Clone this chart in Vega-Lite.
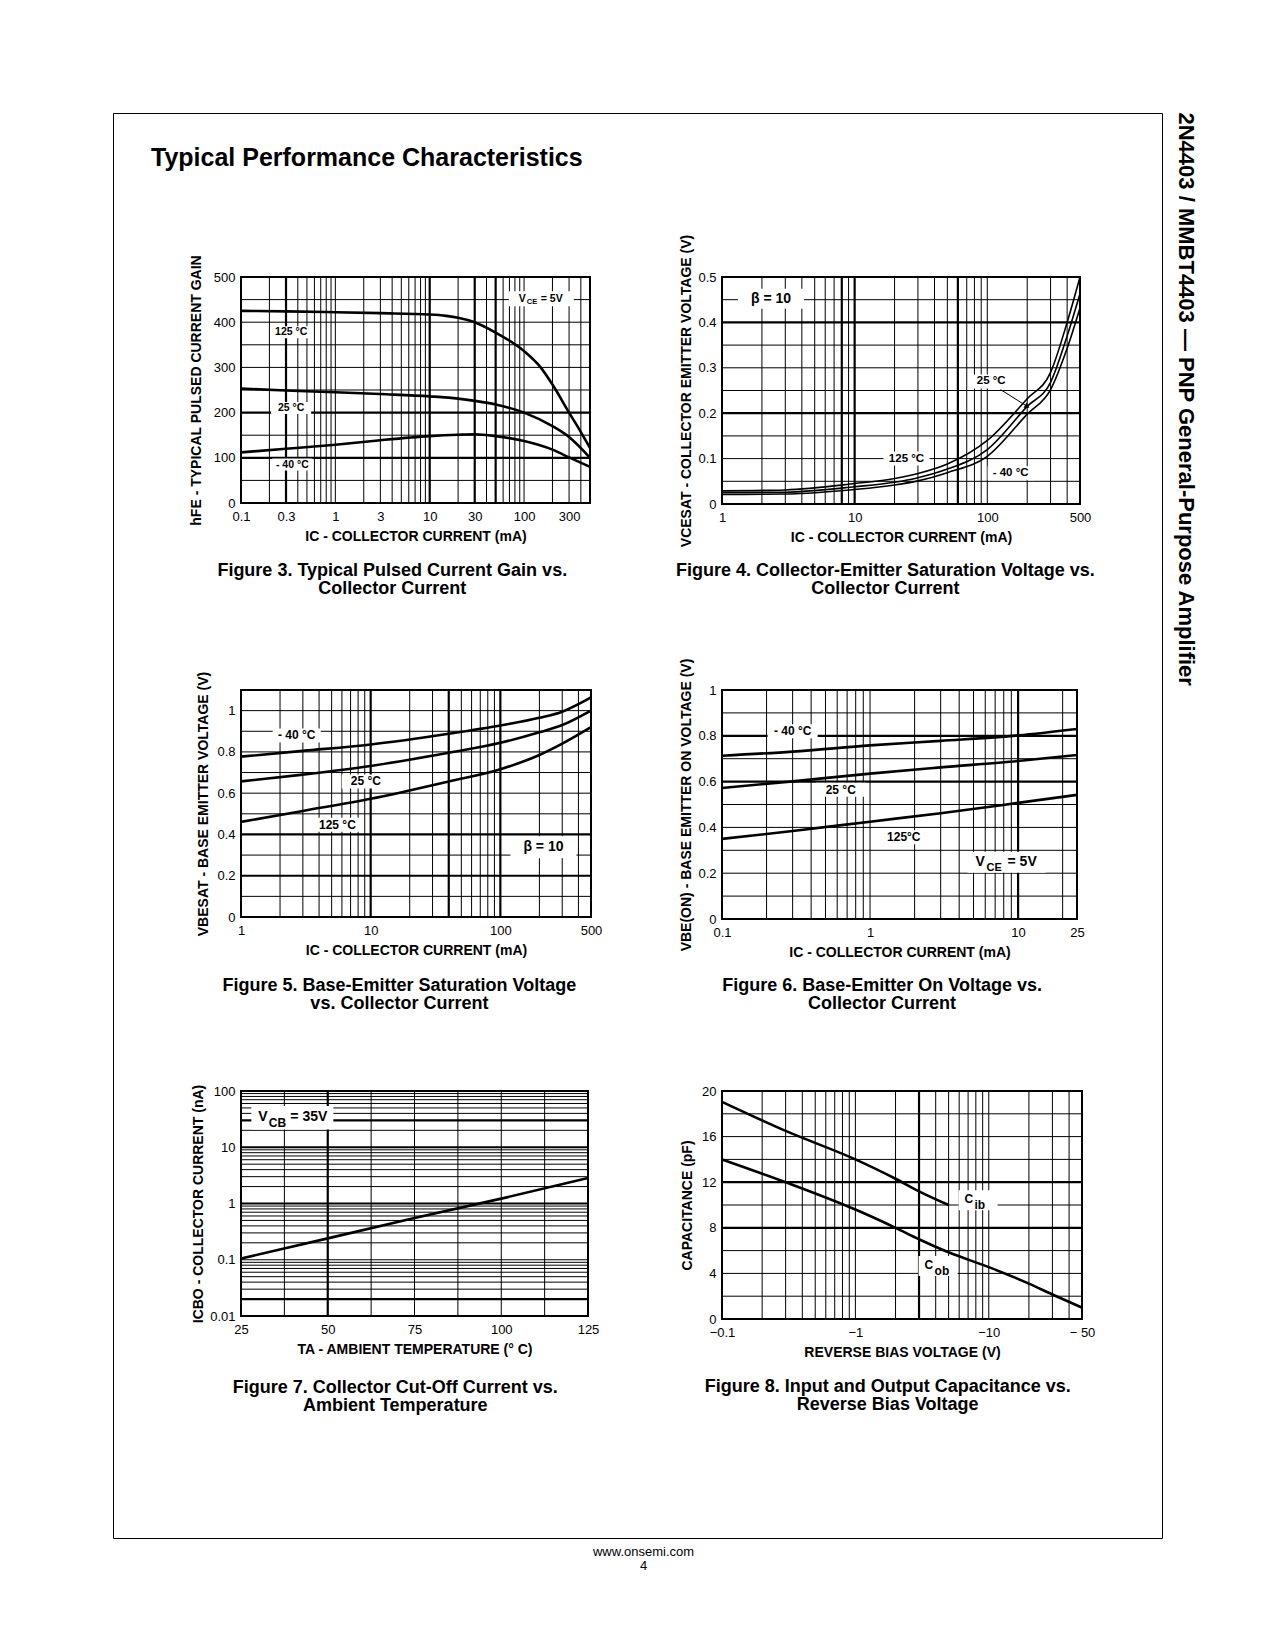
{
  "$schema": "https://vega.github.io/schema/vega-lite/v6.json",
  "padding": {"left": 112, "top": 112, "right": 5, "bottom": 5},
  "background": "white",
  "config": {
    "font": "Liberation Sans",
    "view": {"stroke": "#000", "strokeWidth": 2},
    "axis": {"grid": false, "ticks": false, "tickSize": 0, "domain": false, "labelFont": "Liberation Sans", "labelFontSize": 13, "labelColor": "#000", "titleFont": "Liberation Sans", "titleFontSize": 14, "titleFontWeight": "bold", "titleColor": "#000", "labelOverlap": false, "labelFlush": false, "labelBound": false},
    "axisX": {"labelPadding": 7, "titlePadding": 6},
    "axisY": {"labelPadding": 6},
    "title": {"font": "Liberation Sans", "color": "#000", "fontWeight": "bold"},
    "text": {"font": "Liberation Sans"}
  },
  "datasets": {
    "f3_curve": [
      {"x":0.1,"y":425,"s":"125"},{"x":0.3,"y":424,"s":"125"},{"x":1,"y":422,"s":"125"},{"x":3,"y":420,"s":"125"},{"x":10,"y":417,"s":"125"},{"x":15,"y":414,"s":"125"},{"x":20,"y":410,"s":"125"},{"x":30,"y":400,"s":"125"},{"x":50,"y":377,"s":"125"},{"x":100,"y":336,"s":"125"},{"x":150,"y":300,"s":"125"},{"x":200,"y":262,"s":"125"},{"x":300,"y":200,"s":"125"},{"x":400,"y":157,"s":"125"},{"x":500,"y":122,"s":"125"},
      {"x":0.1,"y":253,"s":"25"},{"x":0.3,"y":249,"s":"25"},{"x":1,"y":245,"s":"25"},{"x":3,"y":241,"s":"25"},{"x":10,"y":236,"s":"25"},{"x":20,"y":231,"s":"25"},{"x":30,"y":226,"s":"25"},{"x":50,"y":218,"s":"25"},{"x":100,"y":200,"s":"25"},{"x":200,"y":170,"s":"25"},{"x":300,"y":146,"s":"25"},{"x":500,"y":100,"s":"25"},
      {"x":0.1,"y":112,"s":"-40"},{"x":0.3,"y":120,"s":"-40"},{"x":1,"y":129,"s":"-40"},{"x":3,"y":139,"s":"-40"},{"x":10,"y":148,"s":"-40"},{"x":20,"y":151,"s":"-40"},{"x":30,"y":152,"s":"-40"},{"x":50,"y":148,"s":"-40"},{"x":100,"y":137,"s":"-40"},{"x":200,"y":118,"s":"-40"},{"x":300,"y":101,"s":"-40"},{"x":500,"y":80,"s":"-40"}
    ],
    "f3_vmin": [{"x":0.2},{"x":0.4},{"x":0.5},{"x":0.6},{"x":0.7},{"x":0.8},{"x":0.9},{"x":1},{"x":2},{"x":3},{"x":4},{"x":5},{"x":6},{"x":7},{"x":8},{"x":9},{"x":20},{"x":40},{"x":60},{"x":70},{"x":80},{"x":90},{"x":100},{"x":200},{"x":300},{"x":400}],
    "f3_vmaj": [{"x":0.3},{"x":10},{"x":30},{"x":50}],
    "f3_hmin": [{"y":50},{"y":150},{"y":250},{"y":300},{"y":350},{"y":400},{"y":450}],
    "f3_hmaj": [{"y":100},{"y":200}],
    "f3_lab": [{"x":0.34,"y":378,"t":"125 °C"},{"x":0.34,"y":210,"t":"25 °C"},{"x":0.35,"y":85,"t":"- 40 °C"}],
    "f3_sub": [{"x":88,"y":452,"m":"V","sub":"CE","r":"= 5V"}],

    "f4_curve": [
      {"x":1,"y":0.029,"s":"125"},{"x":3,"y":0.031,"s":"125"},{"x":10,"y":0.045,"s":"125"},{"x":20,"y":0.056,"s":"125"},{"x":30,"y":0.067,"s":"125"},{"x":50,"y":0.088,"s":"125"},{"x":100,"y":0.14,"s":"125"},{"x":200,"y":0.232,"s":"125"},{"x":300,"y":0.29,"s":"125"},{"x":400,"y":0.4,"s":"125"},{"x":500,"y":0.5,"s":"125"},
      {"x":1,"y":0.025,"s":"25"},{"x":3,"y":0.026,"s":"25"},{"x":10,"y":0.038,"s":"25"},{"x":20,"y":0.048,"s":"25"},{"x":30,"y":0.058,"s":"25"},{"x":50,"y":0.077,"s":"25"},{"x":100,"y":0.12,"s":"25"},{"x":200,"y":0.215,"s":"25"},{"x":300,"y":0.268,"s":"25"},{"x":400,"y":0.37,"s":"25"},{"x":500,"y":0.463,"s":"25"},
      {"x":1,"y":0.021,"s":"-40"},{"x":3,"y":0.022,"s":"-40"},{"x":10,"y":0.032,"s":"-40"},{"x":20,"y":0.042,"s":"-40"},{"x":30,"y":0.051,"s":"-40"},{"x":50,"y":0.069,"s":"-40"},{"x":100,"y":0.105,"s":"-40"},{"x":200,"y":0.198,"s":"-40"},{"x":300,"y":0.252,"s":"-40"},{"x":400,"y":0.343,"s":"-40"},{"x":500,"y":0.432,"s":"-40"}
    ],
    "f4_vmin": [{"x":2},{"x":3},{"x":4},{"x":5},{"x":6},{"x":7},{"x":9},{"x":20},{"x":30},{"x":40},{"x":50},{"x":70},{"x":80},{"x":90},{"x":100},{"x":200},{"x":300},{"x":400}],
    "f4_vmaj": [{"x":8},{"x":10},{"x":60}],
    "f4_hmin": [{"y":0.05},{"y":0.1},{"y":0.15},{"y":0.25},{"y":0.3},{"y":0.35},{"y":0.45}],
    "f4_hmaj": [{"y":0.2},{"y":0.4}],
    "f4_lab": [{"x":24.6,"y":0.1,"t":"125 °C"},{"x":150,"y":0.068,"t":"- 40 °C"},{"x":107,"y":0.27,"t":"25 °C"}],
    "f4_beta": [{"x":2.34,"y":0.452,"t":"β  = 10"}],
    "f4_arrow": [{"x":126,"y":0.252,"x2":200,"y2":0.215}],

    "f5_curve": [
      {"x":1,"y":0.777,"s":"-40"},{"x":3,"y":0.805,"s":"-40"},{"x":10,"y":0.836,"s":"-40"},{"x":40,"y":0.888,"s":"-40"},{"x":100,"y":0.928,"s":"-40"},{"x":200,"y":0.965,"s":"-40"},{"x":300,"y":0.995,"s":"-40"},{"x":500,"y":1.064,"s":"-40"},
      {"x":1,"y":0.657,"s":"25"},{"x":3,"y":0.69,"s":"25"},{"x":10,"y":0.732,"s":"25"},{"x":40,"y":0.796,"s":"25"},{"x":100,"y":0.844,"s":"25"},{"x":200,"y":0.895,"s":"25"},{"x":300,"y":0.93,"s":"25"},{"x":500,"y":1.0,"s":"25"},
      {"x":1,"y":0.461,"s":"125"},{"x":3,"y":0.514,"s":"125"},{"x":10,"y":0.573,"s":"125"},{"x":40,"y":0.657,"s":"125"},{"x":100,"y":0.716,"s":"125"},{"x":200,"y":0.785,"s":"125"},{"x":300,"y":0.84,"s":"125"},{"x":500,"y":0.92,"s":"125"}
    ],
    "f5_vmin": [{"x":2},{"x":3},{"x":4},{"x":5},{"x":6},{"x":7},{"x":8},{"x":9},{"x":20},{"x":30},{"x":50},{"x":60},{"x":70},{"x":80},{"x":90},{"x":200},{"x":300},{"x":400}],
    "f5_vmaj": [{"x":10},{"x":40},{"x":100}],
    "f5_hmin": [{"y":0.1},{"y":0.3},{"y":0.5},{"y":0.6},{"y":0.7},{"y":0.8},{"y":0.9},{"y":1}],
    "f5_hmaj": [{"y":0.2},{"y":0.4}],
    "f5_lab": [{"x":2.69,"y":0.88,"t":"- 40 °C"},{"x":9.17,"y":0.657,"t":"25 °C"},{"x":5.54,"y":0.447,"t":"125 °C"}],
    "f5_beta": [{"x":215,"y":0.338,"t":"β  = 10"}],

    "f6_curve": [
      {"x":0.1,"y":0.713,"s":"-40"},{"x":0.3,"y":0.731,"s":"-40"},{"x":1,"y":0.758,"s":"-40"},{"x":3,"y":0.778,"s":"-40"},{"x":10,"y":0.802,"s":"-40"},{"x":25,"y":0.83,"s":"-40"},
      {"x":0.1,"y":0.572,"s":"25"},{"x":0.3,"y":0.601,"s":"25"},{"x":1,"y":0.635,"s":"25"},{"x":3,"y":0.662,"s":"25"},{"x":10,"y":0.69,"s":"25"},{"x":25,"y":0.716,"s":"25"},
      {"x":0.1,"y":0.35,"s":"125"},{"x":0.3,"y":0.384,"s":"125"},{"x":1,"y":0.425,"s":"125"},{"x":3,"y":0.462,"s":"125"},{"x":10,"y":0.507,"s":"125"},{"x":25,"y":0.542,"s":"125"}
    ],
    "f6_vmin": [{"x":0.2},{"x":0.3},{"x":0.4},{"x":0.5},{"x":0.6},{"x":0.7},{"x":0.8},{"x":0.9},{"x":1},{"x":2},{"x":3},{"x":4},{"x":5},{"x":6},{"x":7},{"x":8},{"x":9},{"x":20}],
    "f6_vmaj": [{"x":10}],
    "f6_hmin": [{"y":0.1},{"y":0.2},{"y":0.3},{"y":0.4},{"y":0.5},{"y":0.7},{"y":0.9}],
    "f6_hmaj": [{"y":0.6},{"y":0.8}],
    "f6_lab": [{"x":0.3,"y":0.82,"t":"- 40 °C"},{"x":0.634,"y":0.564,"t":"25 °C"},{"x":1.69,"y":0.357,"t":"125°C"}],
    "f6_sub": [{"x":5.16,"y":0.25,"m":"V","sub":"CE","r":"= 5V"}],

    "f7_curve": [{"x":25,"y":0.105},{"x":50,"y":0.24},{"x":75,"y":0.55},{"x":100,"y":1.22},{"x":125,"y":2.85}],
    "f7_vmin": [{"x":37.5},{"x":62.5},{"x":75},{"x":87.5},{"x":100},{"x":112.5}],
    "f7_vmaj": [{"x":50}],
    "f7_hmin": [{"y":0.03},{"y":0.04},{"y":0.05},{"y":0.06},{"y":0.07},{"y":0.08},{"y":0.09},{"y":0.1},{"y":0.2},{"y":0.3},{"y":0.4},{"y":0.5},{"y":0.6},{"y":0.7},{"y":0.8},{"y":0.9},{"y":2},{"y":3},{"y":4},{"y":5},{"y":6},{"y":7},{"y":8},{"y":9},{"y":20},{"y":40},{"y":50},{"y":60},{"y":70},{"y":80},{"y":90}],
    "f7_hmaj": [{"y":0.02},{"y":1},{"y":10},{"y":30}],
    "f7_sub": [{"x":30,"y":33.9,"m":"V","sub":"CB","r":"= 35V"}],

    "f8_curve": [
      {"x":0.1,"y":19.05,"s":"Cib"},{"x":0.3,"y":16.5,"s":"Cib"},{"x":1,"y":14.0,"s":"Cib"},{"x":2,"y":12.3,"s":"Cib"},{"x":3,"y":11.2,"s":"Cib"},{"x":5,"y":10.0,"s":"Cib"},
      {"x":0.1,"y":14.0,"s":"Cob"},{"x":0.3,"y":12.0,"s":"Cob"},{"x":1,"y":9.6,"s":"Cob"},{"x":2,"y":8.0,"s":"Cob"},{"x":3,"y":7.0,"s":"Cob"},{"x":5,"y":5.85,"s":"Cob"},{"x":10,"y":4.55,"s":"Cob"},{"x":20,"y":3.1,"s":"Cob"},{"x":30,"y":2.15,"s":"Cob"},{"x":50,"y":1.0,"s":"Cob"}
    ],
    "f8_vmin": [{"x":0.2},{"x":0.3},{"x":0.4},{"x":0.5},{"x":0.6},{"x":0.7},{"x":0.8},{"x":0.9},{"x":1},{"x":2},{"x":4},{"x":5},{"x":6},{"x":7},{"x":8},{"x":9},{"x":10},{"x":20},{"x":30},{"x":40}],
    "f8_vmaj": [{"x":3}],
    "f8_hmin": [{"y":2},{"y":4},{"y":6},{"y":10},{"y":14},{"y":16},{"y":18}],
    "f8_hmaj": [{"y":8},{"y":12}],
    "f8_sub": [{"x":6.58,"y":10.5,"m":"C","sub":"ib"},{"x":3.3,"y":4.73,"m":"C","sub":"ob"}]
  },
  "title": {"text": "2N4403 / MMBT4403 — PNP General-Purpose Amplifier", "orient": "right", "anchor": "start", "offset": 11, "fontSize": 22, "fontWeight": "bold"},
  "vconcat": [
    {
      "title": {"text": ["www.onsemi.com", "4"], "orient": "bottom", "anchor": "middle", "offset": 7, "fontSize": 13, "fontWeight": "normal", "lineHeight": 14, "dx": 6},
      "columns": 1,
      "align": "none",
      "bounds": "flush",
      "spacing": -1261,
      "concat": [
        {
          "width": 1049, "height": 1425,
          "view": {"stroke": "#000", "strokeWidth": 1},
          "title": {"text": "Typical Performance Characteristics", "orient": "top", "anchor": "start", "offset": 0, "dx": 38, "dy": 58, "fontSize": 25, "fontWeight": "bold"},
          "data": {"values": []},
          "mark": {"type": "point", "opacity": 0},
          "encoding": {}
        },
        {
          "bounds": "flush",
          "spacing": 0,
          "hconcat": [
            {"width": 128, "height": 1, "view": {"stroke": null}, "data": {"values": []}, "mark": {"type": "point", "opacity": 0}, "encoding": {}},
            {
              "columns": 3,
              "bounds": "flush",
              "align": "each",
              "spacing": 0,
              "concat": [
                {
                  "width": 349, "height": 226,
                  "title": {"text": ["Figure 3. Typical Pulsed Current Gain vs.", "Collector Current"], "orient": "bottom", "anchor": "middle", "frame": "bounds", "offset": 19, "fontSize": 18, "lineHeight": 18},
                  "layer": [
                    {"data": {"name": "f3_vmin"}, "mark": {"type": "rule", "color": "#000", "strokeWidth": 1},
                     "encoding": {"x": {"field": "x", "type": "quantitative", "scale": {"type": "log", "domain": [0.1, 500], "nice": false}, "axis": {"values": [0.1, 0.3, 1, 3, 10, 30, 100, 300], "labelExpr": "'' + datum.value", "title": "IC - COLLECTOR CURRENT  (mA)"}}}},
                    {"data": {"name": "f3_vmaj"}, "mark": {"type": "rule", "color": "#000", "strokeWidth": 2.2},
                     "encoding": {"x": {"field": "x", "type": "quantitative", "scale": {"type": "log", "domain": [0.1, 500], "nice": false}}}},
                    {"data": {"name": "f3_hmin"}, "mark": {"type": "rule", "color": "#000", "strokeWidth": 1},
                     "encoding": {"y": {"field": "y", "type": "quantitative", "scale": {"domain": [0, 500], "nice": false}, "axis": {"values": [0, 100, 200, 300, 400, 500], "labelExpr": "'' + datum.value", "title": "hFE - TYPICAL PULSED CURRENT GAIN", "titlePadding": 10}}}},
                    {"data": {"name": "f3_hmaj"}, "mark": {"type": "rule", "color": "#000", "strokeWidth": 2.2},
                     "encoding": {"y": {"field": "y", "type": "quantitative", "scale": {"domain": [0, 500], "nice": false}}}},
                    {"data": {"name": "f3_lab"}, "mark": {"type": "point", "shape": "M-2,-0.6H2V0.6H-2Z", "size": 400, "filled": true, "color": "#fff", "opacity": 1, "strokeWidth": 0},
                     "encoding": {"x": {"field": "x", "type": "quantitative", "scale": {"type": "log", "domain": [0.1, 500], "nice": false}}, "y": {"field": "y", "type": "quantitative", "scale": {"domain": [0, 500], "nice": false}}}},
                    {"data": {"name": "f3_sub"}, "mark": {"type": "point", "shape": "M-1,-0.75H5.5V0.75H-1Z", "size": 400, "filled": true, "color": "#fff", "opacity": 1, "strokeWidth": 0},
                     "encoding": {"x": {"field": "x", "type": "quantitative", "scale": {"type": "log", "domain": [0.1, 500], "nice": false}}, "y": {"field": "y", "type": "quantitative", "scale": {"domain": [0, 500], "nice": false}}}},
                    {"data": {"name": "f3_curve"}, "mark": {"type": "line", "color": "#000", "strokeWidth": 2.6, "interpolate": "monotone"},
                     "encoding": {"x": {"field": "x", "type": "quantitative", "scale": {"type": "log", "domain": [0.1, 500], "nice": false}}, "y": {"field": "y", "type": "quantitative", "scale": {"domain": [0, 500], "nice": false}}, "detail": {"field": "s"}}},
                    {"data": {"name": "f3_lab"}, "mark": {"type": "text", "fontSize": 10.5, "fontWeight": "bold", "color": "#000"},
                     "encoding": {"x": {"field": "x", "type": "quantitative", "scale": {"type": "log", "domain": [0.1, 500], "nice": false}}, "y": {"field": "y", "type": "quantitative", "scale": {"domain": [0, 500], "nice": false}}, "text": {"field": "t"}}},
                    {"data": {"name": "f3_sub"}, "mark": {"type": "text", "align": "left", "fontSize": 10.5, "fontWeight": "bold", "color": "#000"},
                     "encoding": {"x": {"field": "x", "type": "quantitative", "scale": {"type": "log", "domain": [0.1, 500], "nice": false}}, "y": {"field": "y", "type": "quantitative", "scale": {"domain": [0, 500], "nice": false}}, "text": {"field": "m"}}},
                    {"data": {"name": "f3_sub"}, "mark": {"type": "text", "align": "left", "fontSize": 7.5, "fontWeight": "bold", "color": "#000", "dx": 8, "dy": 3},
                     "encoding": {"x": {"field": "x", "type": "quantitative", "scale": {"type": "log", "domain": [0.1, 500], "nice": false}}, "y": {"field": "y", "type": "quantitative", "scale": {"domain": [0, 500], "nice": false}}, "text": {"field": "sub"}}},
                    {"data": {"name": "f3_sub"}, "mark": {"type": "text", "align": "left", "fontSize": 10.5, "fontWeight": "bold", "color": "#000", "dx": 22},
                     "encoding": {"x": {"field": "x", "type": "quantitative", "scale": {"type": "log", "domain": [0.1, 500], "nice": false}}, "y": {"field": "y", "type": "quantitative", "scale": {"domain": [0, 500], "nice": false}}, "text": {"field": "r"}}}
                  ]
                },
                {"width": 131, "height": 1, "view": {"stroke": null}, "data": {"values": []}, "mark": {"type": "point", "opacity": 0}, "encoding": {}},
                {
                  "width": 358, "height": 227,
                  "title": {"text": ["Figure 4. Collector-Emitter Saturation Voltage vs.", "Collector Current"], "orient": "bottom", "anchor": "middle", "frame": "bounds", "offset": 15, "fontSize": 18, "lineHeight": 18},
                  "layer": [
                    {"data": {"name": "f4_vmin"}, "mark": {"type": "rule", "color": "#000", "strokeWidth": 1},
                     "encoding": {"x": {"field": "x", "type": "quantitative", "scale": {"type": "log", "domain": [1, 500], "nice": false}, "axis": {"values": [1, 10, 100, 500], "labelExpr": "'' + datum.value", "title": "IC - COLLECTOR CURRENT  (mA)"}}}},
                    {"data": {"name": "f4_vmaj"}, "mark": {"type": "rule", "color": "#000", "strokeWidth": 2.2},
                     "encoding": {"x": {"field": "x", "type": "quantitative", "scale": {"type": "log", "domain": [1, 500], "nice": false}}}},
                    {"data": {"name": "f4_hmin"}, "mark": {"type": "rule", "color": "#000", "strokeWidth": 1},
                     "encoding": {"y": {"field": "y", "type": "quantitative", "scale": {"domain": [0, 0.5], "nice": false}, "axis": {"values": [0, 0.1, 0.2, 0.3, 0.4, 0.5], "labelExpr": "'' + datum.value", "title": "VCESAT - COLLECTOR EMITTER VOLTAGE (V)", "titlePadding": 4}}}},
                    {"data": {"name": "f4_hmaj"}, "mark": {"type": "rule", "color": "#000", "strokeWidth": 2.2},
                     "encoding": {"y": {"field": "y", "type": "quantitative", "scale": {"domain": [0, 0.5], "nice": false}}}},
                    {"data": {"name": "f4_lab"}, "mark": {"type": "point", "shape": "M-2.3,-0.7H2.3V0.7H-2.3Z", "size": 400, "filled": true, "color": "#fff", "opacity": 1, "strokeWidth": 0},
                     "encoding": {"x": {"field": "x", "type": "quantitative", "scale": {"type": "log", "domain": [1, 500], "nice": false}}, "y": {"field": "y", "type": "quantitative", "scale": {"domain": [0, 0.5], "nice": false}}}},
                    {"data": {"name": "f4_beta"}, "mark": {"type": "point", "shape": "M-3.3,-1H3.3V1H-3.3Z", "size": 400, "filled": true, "color": "#fff", "opacity": 1, "strokeWidth": 0},
                     "encoding": {"x": {"field": "x", "type": "quantitative", "scale": {"type": "log", "domain": [1, 500], "nice": false}}, "y": {"field": "y", "type": "quantitative", "scale": {"domain": [0, 0.5], "nice": false}}}},
                    {"data": {"name": "f4_curve"}, "mark": {"type": "line", "color": "#000", "strokeWidth": 1.6, "interpolate": "monotone"},
                     "encoding": {"x": {"field": "x", "type": "quantitative", "scale": {"type": "log", "domain": [1, 500], "nice": false}}, "y": {"field": "y", "type": "quantitative", "scale": {"domain": [0, 0.5], "nice": false}}, "detail": {"field": "s"}}},
                    {"data": {"name": "f4_arrow"}, "mark": {"type": "rule", "color": "#000", "strokeWidth": 1},
                     "encoding": {"x": {"field": "x", "type": "quantitative", "scale": {"type": "log", "domain": [1, 500], "nice": false}}, "y": {"field": "y", "type": "quantitative", "scale": {"domain": [0, 0.5], "nice": false}}, "x2": {"field": "x2"}, "y2": {"field": "y2"}}},
                    {"data": {"name": "f4_arrow"}, "mark": {"type": "point", "shape": "triangle-right", "angle": 30, "size": 35, "filled": true, "color": "#000", "opacity": 1},
                     "encoding": {"x": {"field": "x2", "type": "quantitative", "scale": {"type": "log", "domain": [1, 500], "nice": false}}, "y": {"field": "y2", "type": "quantitative", "scale": {"domain": [0, 0.5], "nice": false}}}},
                    {"data": {"name": "f4_lab"}, "mark": {"type": "text", "fontSize": 11.5, "fontWeight": "bold", "color": "#000"},
                     "encoding": {"x": {"field": "x", "type": "quantitative", "scale": {"type": "log", "domain": [1, 500], "nice": false}}, "y": {"field": "y", "type": "quantitative", "scale": {"domain": [0, 0.5], "nice": false}}, "text": {"field": "t"}}},
                    {"data": {"name": "f4_beta"}, "mark": {"type": "text", "fontSize": 14, "fontWeight": "bold", "color": "#000"},
                     "encoding": {"x": {"field": "x", "type": "quantitative", "scale": {"type": "log", "domain": [1, 500], "nice": false}}, "y": {"field": "y", "type": "quantitative", "scale": {"domain": [0, 0.5], "nice": false}}, "text": {"field": "t"}}}
                  ]
                },
                {"width": 1, "height": 186, "view": {"stroke": null}, "data": {"values": []}, "mark": {"type": "point", "opacity": 0}, "encoding": {}},
                {"width": 1, "height": 1, "view": {"stroke": null}, "data": {"values": []}, "mark": {"type": "point", "opacity": 0}, "encoding": {}},
                {"width": 1, "height": 1, "view": {"stroke": null}, "data": {"values": []}, "mark": {"type": "point", "opacity": 0}, "encoding": {}},
                {
                  "width": 350, "height": 227,
                  "title": {"text": ["Figure 5. Base-Emitter Saturation Voltage", "vs. Collector Current"], "orient": "bottom", "anchor": "middle", "frame": "bounds", "offset": 20, "fontSize": 18, "lineHeight": 18},
                  "layer": [
                    {"data": {"name": "f5_vmin"}, "mark": {"type": "rule", "color": "#000", "strokeWidth": 1},
                     "encoding": {"x": {"field": "x", "type": "quantitative", "scale": {"type": "log", "domain": [1, 500], "nice": false}, "axis": {"values": [1, 10, 100, 500], "labelExpr": "'' + datum.value", "title": "IC - COLLECTOR CURRENT  (mA)"}}}},
                    {"data": {"name": "f5_vmaj"}, "mark": {"type": "rule", "color": "#000", "strokeWidth": 2.2},
                     "encoding": {"x": {"field": "x", "type": "quantitative", "scale": {"type": "log", "domain": [1, 500], "nice": false}}}},
                    {"data": {"name": "f5_hmin"}, "mark": {"type": "rule", "color": "#000", "strokeWidth": 1},
                     "encoding": {"y": {"field": "y", "type": "quantitative", "scale": {"domain": [0, 1.1], "nice": false}, "axis": {"values": [0, 0.2, 0.4, 0.6, 0.8, 1], "labelExpr": "'' + datum.value", "title": "VBESAT - BASE EMITTER VOLTAGE (V)", "titlePadding": 6}}}},
                    {"data": {"name": "f5_hmaj"}, "mark": {"type": "rule", "color": "#000", "strokeWidth": 2.2},
                     "encoding": {"y": {"field": "y", "type": "quantitative", "scale": {"domain": [0, 1.1], "nice": false}}}},
                    {"data": {"name": "f5_lab"}, "mark": {"type": "point", "shape": "M-2.4,-0.7H2.4V0.7H-2.4Z", "size": 400, "filled": true, "color": "#fff", "opacity": 1, "strokeWidth": 0},
                     "encoding": {"x": {"field": "x", "type": "quantitative", "scale": {"type": "log", "domain": [1, 500], "nice": false}}, "y": {"field": "y", "type": "quantitative", "scale": {"domain": [0, 1.1], "nice": false}}}},
                    {"data": {"name": "f5_beta"}, "mark": {"type": "point", "shape": "M-3.3,-1.1H3.3V1.1H-3.3Z", "size": 400, "filled": true, "color": "#fff", "opacity": 1, "strokeWidth": 0},
                     "encoding": {"x": {"field": "x", "type": "quantitative", "scale": {"type": "log", "domain": [1, 500], "nice": false}}, "y": {"field": "y", "type": "quantitative", "scale": {"domain": [0, 1.1], "nice": false}}}},
                    {"data": {"name": "f5_curve"}, "mark": {"type": "line", "color": "#000", "strokeWidth": 2.6, "interpolate": "monotone"},
                     "encoding": {"x": {"field": "x", "type": "quantitative", "scale": {"type": "log", "domain": [1, 500], "nice": false}}, "y": {"field": "y", "type": "quantitative", "scale": {"domain": [0, 1.1], "nice": false}}, "detail": {"field": "s"}}},
                    {"data": {"name": "f5_lab"}, "mark": {"type": "text", "fontSize": 12, "fontWeight": "bold", "color": "#000"},
                     "encoding": {"x": {"field": "x", "type": "quantitative", "scale": {"type": "log", "domain": [1, 500], "nice": false}}, "y": {"field": "y", "type": "quantitative", "scale": {"domain": [0, 1.1], "nice": false}}, "text": {"field": "t"}}},
                    {"data": {"name": "f5_beta"}, "mark": {"type": "text", "fontSize": 14, "fontWeight": "bold", "color": "#000"},
                     "encoding": {"x": {"field": "x", "type": "quantitative", "scale": {"type": "log", "domain": [1, 500], "nice": false}}, "y": {"field": "y", "type": "quantitative", "scale": {"domain": [0, 1.1], "nice": false}}, "text": {"field": "t"}}}
                  ]
                },
                {"width": 1, "height": 1, "view": {"stroke": null}, "data": {"values": []}, "mark": {"type": "point", "opacity": 0}, "encoding": {}},
                {
                  "width": 355, "height": 229,
                  "title": {"text": ["Figure 6. Base-Emitter On Voltage vs.", "Collector Current"], "orient": "bottom", "anchor": "middle", "frame": "bounds", "offset": 18, "fontSize": 18, "lineHeight": 18},
                  "layer": [
                    {"data": {"name": "f6_vmin"}, "mark": {"type": "rule", "color": "#000", "strokeWidth": 1},
                     "encoding": {"x": {"field": "x", "type": "quantitative", "scale": {"type": "log", "domain": [0.1, 25], "nice": false}, "axis": {"values": [0.1, 1, 10, 25], "labelExpr": "'' + datum.value", "title": "IC - COLLECTOR CURRENT  (mA)"}}}},
                    {"data": {"name": "f6_vmaj"}, "mark": {"type": "rule", "color": "#000", "strokeWidth": 2.2},
                     "encoding": {"x": {"field": "x", "type": "quantitative", "scale": {"type": "log", "domain": [0.1, 25], "nice": false}}}},
                    {"data": {"name": "f6_hmin"}, "mark": {"type": "rule", "color": "#000", "strokeWidth": 1},
                     "encoding": {"y": {"field": "y", "type": "quantitative", "scale": {"domain": [0, 1], "nice": false}, "axis": {"values": [0, 0.2, 0.4, 0.6, 0.8, 1], "labelExpr": "'' + datum.value", "title": "VBE(ON) - BASE EMITTER ON VOLTAGE (V)", "titlePadding": 4}}}},
                    {"data": {"name": "f6_hmaj"}, "mark": {"type": "rule", "color": "#000", "strokeWidth": 2.2},
                     "encoding": {"y": {"field": "y", "type": "quantitative", "scale": {"domain": [0, 1], "nice": false}}}},
                    {"data": {"name": "f6_lab"}, "mark": {"type": "point", "shape": "M-2.5,-0.7H2.5V0.7H-2.5Z", "size": 400, "filled": true, "color": "#fff", "opacity": 1, "strokeWidth": 0},
                     "encoding": {"x": {"field": "x", "type": "quantitative", "scale": {"type": "log", "domain": [0.1, 25], "nice": false}}, "y": {"field": "y", "type": "quantitative", "scale": {"domain": [0, 1], "nice": false}}}},
                    {"data": {"name": "f6_sub"}, "mark": {"type": "point", "shape": "M-0.8,-1H7V1.1H-0.8Z", "size": 400, "filled": true, "color": "#fff", "opacity": 1, "strokeWidth": 0},
                     "encoding": {"x": {"field": "x", "type": "quantitative", "scale": {"type": "log", "domain": [0.1, 25], "nice": false}}, "y": {"field": "y", "type": "quantitative", "scale": {"domain": [0, 1], "nice": false}}}},
                    {"data": {"name": "f6_curve"}, "mark": {"type": "line", "color": "#000", "strokeWidth": 2.6, "interpolate": "monotone"},
                     "encoding": {"x": {"field": "x", "type": "quantitative", "scale": {"type": "log", "domain": [0.1, 25], "nice": false}}, "y": {"field": "y", "type": "quantitative", "scale": {"domain": [0, 1], "nice": false}}, "detail": {"field": "s"}}},
                    {"data": {"name": "f6_lab"}, "mark": {"type": "text", "fontSize": 12, "fontWeight": "bold", "color": "#000"},
                     "encoding": {"x": {"field": "x", "type": "quantitative", "scale": {"type": "log", "domain": [0.1, 25], "nice": false}}, "y": {"field": "y", "type": "quantitative", "scale": {"domain": [0, 1], "nice": false}}, "text": {"field": "t"}}},
                    {"data": {"name": "f6_sub"}, "mark": {"type": "text", "align": "left", "fontSize": 14, "fontWeight": "bold", "color": "#000"},
                     "encoding": {"x": {"field": "x", "type": "quantitative", "scale": {"type": "log", "domain": [0.1, 25], "nice": false}}, "y": {"field": "y", "type": "quantitative", "scale": {"domain": [0, 1], "nice": false}}, "text": {"field": "m"}}},
                    {"data": {"name": "f6_sub"}, "mark": {"type": "text", "align": "left", "fontSize": 11, "fontWeight": "bold", "color": "#000", "dx": 11, "dy": 6},
                     "encoding": {"x": {"field": "x", "type": "quantitative", "scale": {"type": "log", "domain": [0.1, 25], "nice": false}}, "y": {"field": "y", "type": "quantitative", "scale": {"domain": [0, 1], "nice": false}}, "text": {"field": "sub"}}},
                    {"data": {"name": "f6_sub"}, "mark": {"type": "text", "align": "left", "fontSize": 14, "fontWeight": "bold", "color": "#000", "dx": 32},
                     "encoding": {"x": {"field": "x", "type": "quantitative", "scale": {"type": "log", "domain": [0.1, 25], "nice": false}}, "y": {"field": "y", "type": "quantitative", "scale": {"domain": [0, 1], "nice": false}}, "text": {"field": "r"}}}
                  ]
                },
                {"width": 1, "height": 172, "view": {"stroke": null}, "data": {"values": []}, "mark": {"type": "point", "opacity": 0}, "encoding": {}},
                {"width": 1, "height": 1, "view": {"stroke": null}, "data": {"values": []}, "mark": {"type": "point", "opacity": 0}, "encoding": {}},
                {"width": 1, "height": 1, "view": {"stroke": null}, "data": {"values": []}, "mark": {"type": "point", "opacity": 0}, "encoding": {}},
                {
                  "width": 347, "height": 225,
                  "title": {"text": ["Figure 7. Collector Cut-Off Current vs.", "Ambient Temperature"], "orient": "bottom", "anchor": "middle", "frame": "bounds", "offset": 23, "fontSize": 18, "lineHeight": 18},
                  "layer": [
                    {"data": {"name": "f7_vmin"}, "mark": {"type": "rule", "color": "#000", "strokeWidth": 1},
                     "encoding": {"x": {"field": "x", "type": "quantitative", "scale": {"domain": [25, 125], "nice": false, "zero": false}, "axis": {"values": [25, 50, 75, 100, 125], "labelExpr": "'' + datum.value", "title": "TA - AMBIENT TEMPERATURE (° C)"}}}},
                    {"data": {"name": "f7_vmaj"}, "mark": {"type": "rule", "color": "#000", "strokeWidth": 2.2},
                     "encoding": {"x": {"field": "x", "type": "quantitative", "scale": {"domain": [25, 125], "nice": false, "zero": false}}}},
                    {"data": {"name": "f7_hmin"}, "mark": {"type": "rule", "color": "#000", "strokeWidth": 1},
                     "encoding": {"y": {"field": "y", "type": "quantitative", "scale": {"type": "log", "domain": [0.01, 100], "nice": false}, "axis": {"values": [0.01, 0.1, 1, 10, 100], "labelExpr": "'' + datum.value", "title": "ICBO - COLLECTOR CURRENT (nA)", "titlePadding": 4}}}},
                    {"data": {"name": "f7_hmaj"}, "mark": {"type": "rule", "color": "#000", "strokeWidth": 2.2},
                     "encoding": {"y": {"field": "y", "type": "quantitative", "scale": {"type": "log", "domain": [0.01, 100], "nice": false}}}},
                    {"data": {"name": "f7_sub"}, "mark": {"type": "point", "shape": "M-0.7,-1.15H7.5V1.2H-0.7Z", "size": 400, "filled": true, "color": "#fff", "opacity": 1, "strokeWidth": 0},
                     "encoding": {"x": {"field": "x", "type": "quantitative", "scale": {"domain": [25, 125], "nice": false, "zero": false}}, "y": {"field": "y", "type": "quantitative", "scale": {"type": "log", "domain": [0.01, 100], "nice": false}}}},
                    {"data": {"name": "f7_curve"}, "mark": {"type": "line", "color": "#000", "strokeWidth": 2.6},
                     "encoding": {"x": {"field": "x", "type": "quantitative", "scale": {"domain": [25, 125], "nice": false, "zero": false}}, "y": {"field": "y", "type": "quantitative", "scale": {"type": "log", "domain": [0.01, 100], "nice": false}}}},
                    {"data": {"name": "f7_sub"}, "mark": {"type": "text", "align": "left", "fontSize": 14, "fontWeight": "bold", "color": "#000"},
                     "encoding": {"x": {"field": "x", "type": "quantitative", "scale": {"domain": [25, 125], "nice": false, "zero": false}}, "y": {"field": "y", "type": "quantitative", "scale": {"type": "log", "domain": [0.01, 100], "nice": false}}, "text": {"field": "m"}}},
                    {"data": {"name": "f7_sub"}, "mark": {"type": "text", "align": "left", "fontSize": 12, "fontWeight": "bold", "color": "#000", "dx": 10.5, "dy": 6},
                     "encoding": {"x": {"field": "x", "type": "quantitative", "scale": {"domain": [25, 125], "nice": false, "zero": false}}, "y": {"field": "y", "type": "quantitative", "scale": {"type": "log", "domain": [0.01, 100], "nice": false}}, "text": {"field": "sub"}}},
                    {"data": {"name": "f7_sub"}, "mark": {"type": "text", "align": "left", "fontSize": 14, "fontWeight": "bold", "color": "#000", "dx": 32},
                     "encoding": {"x": {"field": "x", "type": "quantitative", "scale": {"domain": [25, 125], "nice": false, "zero": false}}, "y": {"field": "y", "type": "quantitative", "scale": {"type": "log", "domain": [0.01, 100], "nice": false}}, "text": {"field": "r"}}}
                  ]
                },
                {"width": 1, "height": 1, "view": {"stroke": null}, "data": {"values": []}, "mark": {"type": "point", "opacity": 0}, "encoding": {}},
                {
                  "width": 360, "height": 228,
                  "title": {"text": ["Figure 8. Input and Output Capacitance vs.", "Reverse Bias Voltage"], "orient": "bottom", "anchor": "middle", "frame": "bounds", "offset": 19, "fontSize": 18, "lineHeight": 18},
                  "layer": [
                    {"data": {"name": "f8_vmin"}, "mark": {"type": "rule", "color": "#000", "strokeWidth": 1},
                     "encoding": {"x": {"field": "x", "type": "quantitative", "scale": {"type": "log", "domain": [0.1, 50], "nice": false}, "axis": {"values": [0.1, 1, 10, 50], "labelExpr": "datum.value == 50 ? '− 50' : '−' + datum.value", "title": "REVERSE BIAS VOLTAGE (V)"}}}},
                    {"data": {"name": "f8_vmaj"}, "mark": {"type": "rule", "color": "#000", "strokeWidth": 2.2},
                     "encoding": {"x": {"field": "x", "type": "quantitative", "scale": {"type": "log", "domain": [0.1, 50], "nice": false}}}},
                    {"data": {"name": "f8_hmin"}, "mark": {"type": "rule", "color": "#000", "strokeWidth": 1},
                     "encoding": {"y": {"field": "y", "type": "quantitative", "scale": {"domain": [0, 20], "nice": false}, "axis": {"values": [0, 4, 8, 12, 16, 20], "labelExpr": "'' + datum.value", "title": "CAPACITANCE (pF)", "titlePadding": 7}}}},
                    {"data": {"name": "f8_hmaj"}, "mark": {"type": "rule", "color": "#000", "strokeWidth": 2.2},
                     "encoding": {"y": {"field": "y", "type": "quantitative", "scale": {"domain": [0, 20], "nice": false}}}},
                    {"data": {"name": "f8_sub"}, "mark": {"type": "point", "shape": "M-0.6,-0.9H3.3V1.1H-0.6Z", "size": 400, "filled": true, "color": "#fff", "opacity": 1, "strokeWidth": 0},
                     "encoding": {"x": {"field": "x", "type": "quantitative", "scale": {"type": "log", "domain": [0.1, 50], "nice": false}}, "y": {"field": "y", "type": "quantitative", "scale": {"domain": [0, 20], "nice": false}}}},
                    {"data": {"name": "f8_curve"}, "mark": {"type": "line", "color": "#000", "strokeWidth": 2.6, "interpolate": "monotone"},
                     "encoding": {"x": {"field": "x", "type": "quantitative", "scale": {"type": "log", "domain": [0.1, 50], "nice": false}}, "y": {"field": "y", "type": "quantitative", "scale": {"domain": [0, 20], "nice": false}}, "detail": {"field": "s"}}},
                    {"data": {"name": "f8_sub"}, "mark": {"type": "text", "align": "left", "fontSize": 12, "fontWeight": "bold", "color": "#000"},
                     "encoding": {"x": {"field": "x", "type": "quantitative", "scale": {"type": "log", "domain": [0.1, 50], "nice": false}}, "y": {"field": "y", "type": "quantitative", "scale": {"domain": [0, 20], "nice": false}}, "text": {"field": "m"}}},
                    {"data": {"name": "f8_sub"}, "mark": {"type": "text", "align": "left", "fontSize": 12, "fontWeight": "bold", "color": "#000", "dx": 10, "dy": 6},
                     "encoding": {"x": {"field": "x", "type": "quantitative", "scale": {"type": "log", "domain": [0.1, 50], "nice": false}}, "y": {"field": "y", "type": "quantitative", "scale": {"domain": [0, 20], "nice": false}}, "text": {"field": "sub"}}}
                  ]
                }
              ]
            }
          ]
        }
      ]
    }
  ]
}
